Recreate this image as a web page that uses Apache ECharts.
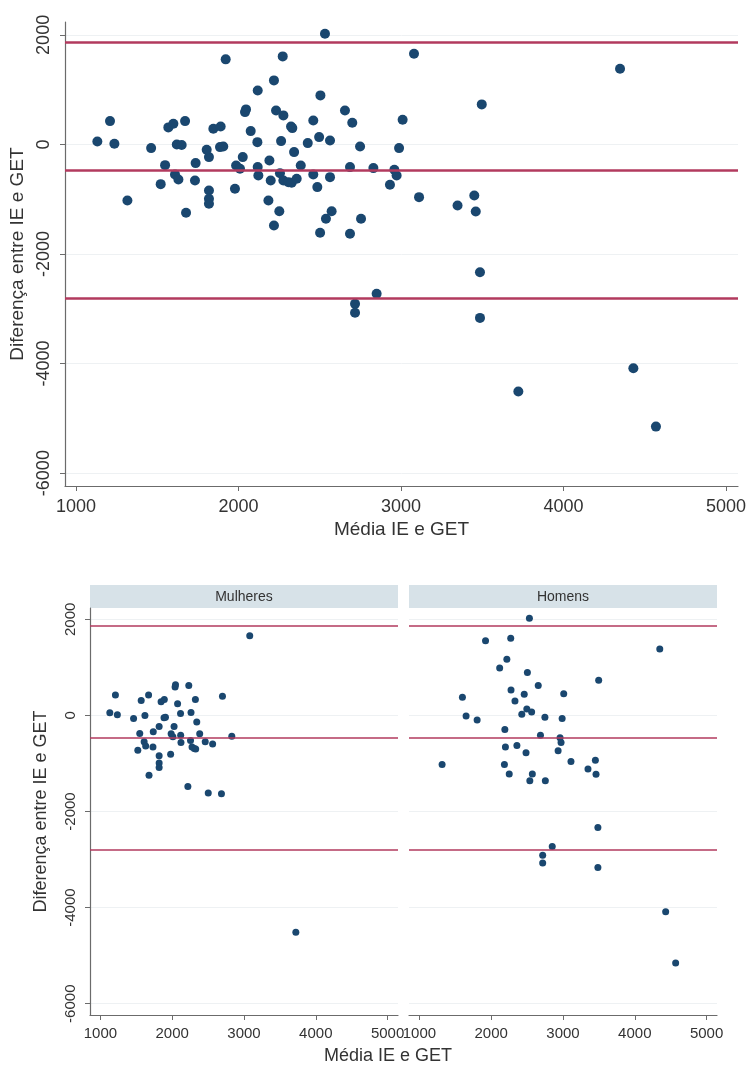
<!DOCTYPE html>
<html>
<head>
<meta charset="utf-8">
<script src="https://cdn.jsdelivr.net/npm/echarts@6.0.0/dist/echarts.min.js"></script>
<style>
  body { margin: 0; background: #fff; }
  #chart { width: 750px; height: 1066px; }
</style>
</head>
<body>
<div id="chart"></div>
<script>
  // tick labels
  const xTicks = [1000, 2000, 3000, 4000, 5000];
  const yTicks = [-6000, -4000, -2000, 0, 2000];

  // Bland-Altman: media das diferencas e limites de concordancia
  const meanDiff = -470;
  const upperLoA = 1865;
  const lowerLoA = -2805;

  // [media IE e GET, diferenca IE - GET]
  const mulheres = [
    [1131, 55], [1209, 426], [1236, 12], [1462, -67], [1548, -378], [1521, -725],
    [1568, 311], [1609, -548], [1630, -639], [1620, 0], [1671, 426], [1677, -1248],
    [1736, -341], [1732, -658], [1818, -231], [1818, -840], [1818, -992], [1818, -1083],
    [1845, 286], [1890, 329], [1886, -49], [1906, -37], [1978, -809], [1985, -384],
    [2009, -444], [2026, -231], [2046, 640], [2040, 590], [2075, 243], [2116, 42],
    [2118, -414], [2122, -566], [2218, -1479], [2231, 621], [2262, 61], [2255, -524],
    [2276, -658], [2307, -688], [2327, -700], [2323, 329], [2342, -140], [2383, -384],
    [2460, -548], [2563, -597], [2502, -1613], [2700, 396], [2686, -1631], [2830, -432],
    [3080, 1656], [3722, -4511]
  ];
  const homens = [
    [1316, -1023], [1599, 378], [1650, -10], [1804, -97], [1921, 1553], [2118, 986],
    [2184, -1023], [2190, -292], [2198, -658], [2218, 1169], [2251, -1218], [2272, 1607],
    [2276, 530], [2331, 298], [2358, -627], [2426, 24], [2460, 438], [2485, -779],
    [2496, 134], [2504, 895], [2532, 2022], [2563, 73], [2573, -1218], [2538, -1358],
    [2655, 621], [2686, -414], [2748, -37], [2754, -1358], [2959, -463], [2973, -566],
    [2932, -737], [2988, -67], [3010, 451], [3111, -962], [3348, -1114], [3451, -932],
    [3460, -1224], [3497, 731], [4348, 1382], [2717, -2910], [2717, -3074], [2850, -2727],
    [3486, -2332], [3486, -3166], [4430, -4086], [4569, -5151]
  ];

  const font = 'Liberation Sans, Arial, sans-serif';
  const axisColor = '#6b6b6b';
  const textColor = '#333';
  const markerColor = '#1a476f';
  const lineColor = '#b23a5e';
  const plain = function (v) { return String(v); };

  function xAxisFor(gridIndex, min, max, fontSize, margin) {
    return {
      type: 'value', gridIndex: gridIndex, min: min, max: max,
      axisLine: { show: true, onZero: false, lineStyle: { color: axisColor, width: 1.2 } },
      axisTick: { show: true, customValues: xTicks, length: 5, lineStyle: { color: axisColor } },
      axisLabel: { customValues: xTicks, formatter: plain, fontSize: fontSize, color: textColor, fontFamily: font, margin: margin },
      splitLine: { show: false }
    };
  }

  function yAxisFor(gridIndex, fontSize, margin, showAxis) {
    return {
      type: 'value', gridIndex: gridIndex, min: -6235, max: 2235,
      axisLine: { show: showAxis, onZero: false, lineStyle: { color: axisColor, width: 1.2 } },
      axisTick: { show: showAxis, customValues: yTicks, length: 5, lineStyle: { color: axisColor } },
      axisLabel: { show: showAxis, customValues: yTicks, formatter: plain, rotate: 90, fontSize: fontSize, color: textColor, fontFamily: font, margin: margin },
      splitLine: { show: true, lineStyle: { color: '#eef1f3', width: 1 } }
    };
  }

  function limitLines(width) {
    return {
      silent: true, symbol: 'none', label: { show: false },
      lineStyle: { color: lineColor, width: width, type: 'solid' },
      data: [{ yAxis: upperLoA }, { yAxis: meanDiff }, { yAxis: lowerLoA }]
    };
  }

  const x0 = xAxisFor(0, 932, 5074, 18, 12);
  x0.name = 'Média IE e GET';
  x0.nameLocation = 'middle';
  x0.nameGap = 34;
  x0.nameTextStyle = { fontSize: 19, color: textColor, fontFamily: font };

  const y0 = yAxisFor(0, 18, 12, true);
  y0.name = 'Diferença entre IE e GET';
  y0.nameLocation = 'middle';
  y0.nameGap = 36;
  y0.nameTextStyle = { fontSize: 19, color: textColor, fontFamily: font };

  const y1 = yAxisFor(1, 15, 12, true);
  y1.name = 'Diferença entre IE e GET';
  y1.nameLocation = 'middle';
  y1.nameGap = 40;
  y1.nameTextStyle = { fontSize: 18, color: textColor, fontFamily: font };

  const option = {
    backgroundColor: '#fff',
    animation: false,
    grid: [
      { left: 65, top: 22, width: 673, height: 464 },
      { left: 90, top: 608, width: 308, height: 407 },
      { left: 409, top: 608, width: 308, height: 407 }
    ],
    xAxis: [
      x0,
      xAxisFor(1, 855, 5145, 15, 11),
      xAxisFor(2, 855, 5145, 15, 11)
    ],
    yAxis: [y0, y1, yAxisFor(2, 15, 12, false)],
    graphic: [
      { type: 'rect', shape: { x: 90, y: 585, width: 308, height: 23 }, style: { fill: '#d7e2e8' } },
      { type: 'rect', shape: { x: 409, y: 585, width: 308, height: 23 }, style: { fill: '#d7e2e8' } },
      { type: 'text', x: 244, y: 597, style: { text: 'Mulheres', fontSize: 14, fill: textColor, fontFamily: font, align: 'center', verticalAlign: 'middle' } },
      { type: 'text', x: 563, y: 597, style: { text: 'Homens', fontSize: 14, fill: textColor, fontFamily: font, align: 'center', verticalAlign: 'middle' } },
      { type: 'text', x: 388, y: 1056, style: { text: 'Média IE e GET', fontSize: 18, fill: textColor, fontFamily: font, align: 'center', verticalAlign: 'middle' } }
    ],
    series: [
      {
        name: 'Todos', type: 'scatter', xAxisIndex: 0, yAxisIndex: 0,
        symbolSize: 10, itemStyle: { color: markerColor, opacity: 1 },
        data: mulheres.concat(homens),
        markLine: limitLines(2.5)
      },
      {
        name: 'Mulheres', type: 'scatter', xAxisIndex: 1, yAxisIndex: 1,
        symbolSize: 7, itemStyle: { color: markerColor, opacity: 1 },
        data: mulheres,
        markLine: limitLines(1.6)
      },
      {
        name: 'Homens', type: 'scatter', xAxisIndex: 2, yAxisIndex: 2,
        symbolSize: 7, itemStyle: { color: markerColor, opacity: 1 },
        data: homens,
        markLine: limitLines(1.6)
      }
    ]
  };

  const chart = echarts.init(document.getElementById('chart'));
  chart.setOption(option);
</script>
</body>
</html>
